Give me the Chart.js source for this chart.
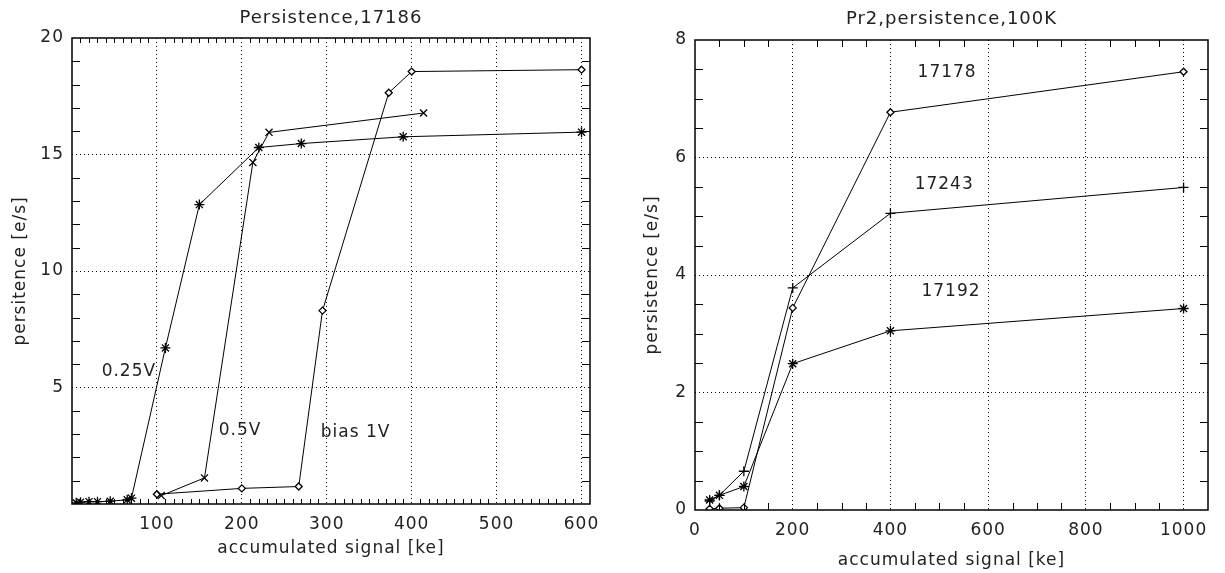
<!DOCTYPE html>
<html>
<head>
<meta charset="utf-8">
<script src="https://cdn.jsdelivr.net/npm/chart.js@4.4.1/dist/chart.umd.min.js"></script>
<style>
  body { margin: 0; background: #fff; width: 1225px; height: 573px; overflow: hidden; position: relative; }
  .panel { position: absolute; top: 0; height: 573px; }
  #leftPanel { left: 0; width: 612px; }
  #rightPanel { left: 612px; width: 613px; }
</style>
</head>
<body>
<div class="panel" id="leftPanel"><canvas id="leftChart"></canvas></div>
<div class="panel" id="rightPanel"><canvas id="rightChart"></canvas></div>
<script>
// left panel: Persistence,17186
const sig025 = [5, 10, 20, 30, 45, 65, 70, 110, 150, 220, 270, 390, 600];
const per025 = [0.05, 0.08, 0.1, 0.1, 0.12, 0.18, 0.25, 6.7, 12.85, 15.3, 15.47, 15.76, 15.96];
const sig05 = [105, 156, 213, 232, 414];
const per05 = [0.36, 1.12, 14.66, 15.95, 16.78];
const sig1V = [100, 200, 267, 295, 373, 400, 600];
const per1V = [0.42, 0.67, 0.75, 8.3, 17.65, 18.56, 18.64];
const leftXTicks = [100, 200, 300, 400, 500, 600];
const leftYTicks = [5, 10, 15, 20];
const leftNotes = [
  { text: '0.25V', x: 67, y: 5.7 },
  { text: '0.5V', x: 198, y: 3.15 },
  { text: 'bias 1V', x: 334, y: 3.05 }
];

// right panel: Pr2,persistence,100K
const sigR = [30, 50, 100, 200, 400, 1000];
const per17178 = [0.02, 0.03, 0.04, 3.44, 6.77, 7.46];
const per17243 = [0.15, 0.25, 0.66, 3.78, 5.05, 5.49];
const per17192 = [0.17, 0.25, 0.4, 2.49, 3.05, 3.43];
const rightXTicks = [0, 200, 400, 600, 800, 1000];
const rightYTicks = [0, 2, 4, 6, 8];
const rightNotes = [
  { text: '17178', x: 516, y: 7.45 },
  { text: '17243', x: 510, y: 5.54 },
  { text: '17192', x: 524, y: 3.71 }
];

const ink = '#222';
const fontFamily = '"DejaVu Sans", sans-serif';

const pts = (xs, ys) => xs.map((x, i) => ({ x: x, y: ys[i] }));

// IDL look: wide lettering, closed frame, inward minor ticks, title over the plot, notes
const idlFrame = {
  id: 'idlFrame',
  beforeDraw(chart) {
    chart.ctx.letterSpacing = '1px';
  },
  afterDraw(chart, args, opts) {
    const { ctx, chartArea: a, scales: { x, y } } = chart;
    ctx.save();
    ctx.strokeStyle = '#000';
    ctx.lineWidth = 1;
    for (let v = x.min + opts.xStep; v < x.max; v += opts.xStep) {
      if (opts.xMajor.includes(Math.round(v))) continue;
      const px = Math.round(x.getPixelForValue(v)) + 0.5;
      ctx.beginPath();
      ctx.moveTo(px, a.bottom); ctx.lineTo(px, a.bottom - opts.xLen);
      ctx.moveTo(px, a.top); ctx.lineTo(px, a.top + opts.xLen);
      ctx.stroke();
    }
    for (let v = y.min + opts.yStep; v < y.max; v += opts.yStep) {
      if (opts.yMajor.some(m => Math.abs(m - v) < 1e-6)) continue;
      const py = Math.round(y.getPixelForValue(v)) + 0.5;
      ctx.beginPath();
      ctx.moveTo(a.left, py); ctx.lineTo(a.left + opts.yLen, py);
      ctx.moveTo(a.right, py); ctx.lineTo(a.right - opts.yLen, py);
      ctx.stroke();
    }
    ctx.lineWidth = 1.5;
    ctx.strokeRect(a.left, a.top, a.right - a.left, a.bottom - a.top);
    ctx.fillStyle = ink;
    ctx.letterSpacing = '1px';
    ctx.textAlign = 'center';
    ctx.textBaseline = 'middle';
    ctx.font = '18px ' + fontFamily;
    ctx.fillText(opts.title, (a.left + a.right) / 2, opts.titleY);
    ctx.font = '17px ' + fontFamily;
    opts.notes.forEach(n => ctx.fillText(n.text, x.getPixelForValue(n.x), y.getPixelForValue(n.y)));
    ctx.restore();
  }
};

function makeAxis(ticks, min, max, title, hideZero, size, isX, titlePad) {
  return {
    type: 'linear',
    min: min,
    max: max,
    afterBuildTicks: s => { s.ticks = ticks.map(v => ({ value: v })); },
    afterFit: s => { if (isX) s.height = size; else s.width = size; },
    ticks: {
      autoSkip: false,
      maxRotation: 0,
      color: ink,
      padding: isX ? 10 : 8,
      font: { family: fontFamily, size: 17 },
      callback: v => (hideZero && v === 0) ? '' : String(v)
    },
    grid: {
      drawTicks: false,
      color: c => (c.tick && (c.tick.value === min || c.tick.value === max)) ? 'rgba(0,0,0,0)' : '#000',
      lineWidth: 1
    },
    border: { display: false, dash: [1, 3] },
    title: {
      display: true,
      text: title,
      color: ink,
      font: { family: fontFamily, size: 17 },
      padding: titlePad
    }
  };
}

function lineSet(data, style, radius) {
  return {
    data: data,
    showLine: true,
    borderColor: '#000',
    borderWidth: 1,
    pointStyle: style,
    pointRadius: radius,
    pointBorderColor: '#000',
    pointBorderWidth: 1.3,
    pointBackgroundColor: '#fff',
    tension: 0
  };
}

new Chart(document.getElementById('leftChart'), {
  type: 'scatter',
  data: {
    datasets: [
      lineSet(pts(sig025, per025), 'star', 5),
      lineSet(pts(sig05, per05), 'crossRot', 5),
      lineSet(pts(sig1V, per1V), 'rectRot', 3.5)
    ]
  },
  options: {
    responsive: true,
    maintainAspectRatio: false,
    animation: false,
    layout: { padding: { left: 0, right: 22, top: 38, bottom: 0 } },
    plugins: {
      legend: { display: false },
      tooltip: { enabled: false },
      idlFrame: {
        title: 'Persistence,17186', titleY: 18,
        xStep: 10, yStep: 1, xLen: 5, yLen: 8,
        xMajor: leftXTicks, yMajor: leftYTicks, notes: leftNotes
      }
    },
    scales: {
      x: makeAxis(leftXTicks, 0, 610, 'accumulated signal [ke]', true, 69, true, { top: 0, bottom: 14 }),
      y: makeAxis(leftYTicks, 0, 20, 'persitence [e/s]', true, 72, false, { top: 10, bottom: 0 })
    }
  },
  plugins: [idlFrame]
});

new Chart(document.getElementById('rightChart'), {
  type: 'scatter',
  data: {
    datasets: [
      lineSet(pts(sigR, per17178), 'rectRot', 3.5),
      lineSet(pts(sigR, per17243), 'cross', 5),
      lineSet(pts(sigR, per17192), 'star', 5)
    ]
  },
  options: {
    responsive: true,
    maintainAspectRatio: false,
    animation: false,
    layout: { padding: { left: 0, right: 17, top: 40, bottom: 0 } },
    plugins: {
      legend: { display: false },
      tooltip: { enabled: false },
      idlFrame: {
        title: 'Pr2,persistence,100K', titleY: 19,
        xStep: 50, yStep: 0.5, xLen: 7, yLen: 8,
        xMajor: rightXTicks, yMajor: rightYTicks, notes: rightNotes
      }
    },
    scales: {
      x: makeAxis(rightXTicks, 0, 1050, 'accumulated signal [ke]', false, 63, true, { top: 0, bottom: 2 }),
      y: makeAxis(rightYTicks, 0, 8, 'persistence [e/s]', false, 83, false, { top: 30, bottom: 0 })
    }
  },
  plugins: [idlFrame]
});
</script>
</body>
</html>
